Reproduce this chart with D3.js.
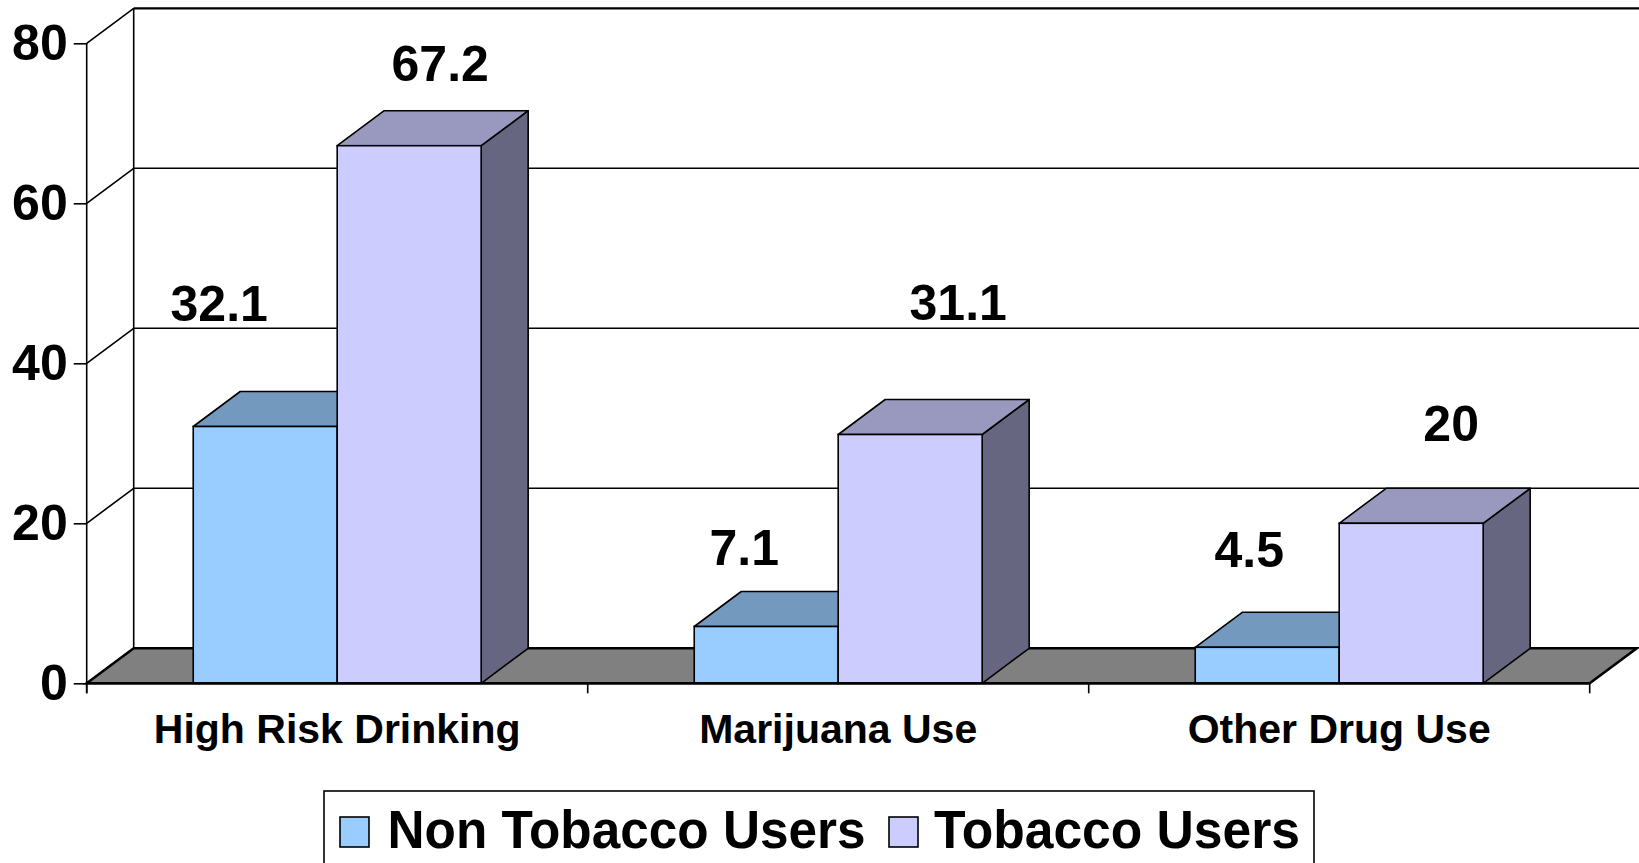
<!DOCTYPE html>
<html>
<head>
<meta charset="utf-8">
<script src="https://cdn.jsdelivr.net/npm/d3@7"></script>
<style>
  body { margin: 0; background: #fff; }
  svg { display: block; font-family: "Liberation Sans", Arial, sans-serif; font-weight: bold; }
</style>
</head>
<body>
<div id="chart"></div>
<script>
// data
var categories = ["High Risk Drinking", "Marijuana Use", "Other Drug Use"];
var seriesNames = ["Non Tobacco Users", "Tobacco Users"];
var nonTobacco = [32.1, 7.1, 4.5];
var tobacco = [67.2, 31.1, 20];
var yTicks = [0, 20, 40, 60, 80];

// layout only: label nudges (px) relative to the front face of each bar
var labelNudge = [
    [[-46, -106], [-22, -62], [-18, -80]],
    [[31, -65], [48, -115], [40, -82]]
];

var width = 1639, height = 863;
var depth = { dx: 47, dy: -35 };
var colors = {
    front: ["#99CCFF", "#CCCCFF"],
    top: ["#7399BF", "#9999BF"],
    side: ["#667F99", "#666680"]
};

var svg = d3.select("#chart")
    .append("svg")
    .attr("width", width)
    .attr("height", height);

// scales
var x = d3.scaleBand().domain(categories).range([86.7, 1589.7]);
var xs = d3.scaleBand().domain(seriesNames).range([0, x.bandwidth()])
    .paddingInner(0).paddingOuter(0.74);
var y = d3.scaleLinear().domain([0, 80]).range([683.3, 43.3]);

var x0 = x.range()[0], x1 = x.range()[1];

// walls / gridlines
var grid = svg.append("g");
yTicks.forEach(function (t) {
    if (t > 0) {
        grid.append("line")
            .attr("x1", x0 + depth.dx).attr("x2", width)
            .attr("y1", y(t) + depth.dy).attr("y2", y(t) + depth.dy)
            .attr("stroke", "#000").attr("stroke-width", t == 80 ? 2.2 : 1.6);
    }
    grid.append("line")
        .attr("x1", x0).attr("x2", x0 + depth.dx)
        .attr("y1", y(t)).attr("y2", y(t) + depth.dy)
        .attr("stroke", "#000").attr("stroke-width", 1.6);
});
// back wall edge
grid.append("line")
    .attr("x1", x0 + depth.dx).attr("x2", x0 + depth.dx)
    .attr("y1", y(80) + depth.dy).attr("y2", y(0) + depth.dy)
    .attr("stroke", "#000").attr("stroke-width", 1.6);

// floor
var floorPts = [[x0, y(0)], [x1, y(0)], [x1 + depth.dx, y(0) + depth.dy], [x0 + depth.dx, y(0) + depth.dy]];
svg.append("path")
    .attr("d", d3.line()(floorPts) + "Z")
    .attr("fill", "#808080")
    .attr("stroke", "#000")
    .attr("stroke-width", 2.5)
    .attr("stroke-linejoin", "miter");

// bars
var rows = [];
categories.forEach(function (c, i) {
    [nonTobacco, tobacco].forEach(function (vals, s) {
        rows.push({ cat: c, ci: i, s: s, value: vals[i] });
    });
});

var bars = svg.append("g").selectAll("g")
    .data(rows)
    .enter()
    .append("g");

function barGeom(d) {
    var bx = x(d.cat) + xs(seriesNames[d.s]);
    var bw = xs.bandwidth();
    return { l: bx, r: bx + bw, t: y(d.value), b: y(0) };
}

bars.append("path")
    .attr("d", function (d) {
        var g = barGeom(d);
        return d3.line()([[g.r, g.b], [g.r + depth.dx, g.b + depth.dy], [g.r + depth.dx, g.t + depth.dy], [g.r, g.t]]) + "Z";
    })
    .attr("fill", function (d) { return colors.side[d.s]; })
    .attr("stroke", "#000").attr("stroke-width", 1.6).attr("stroke-linejoin", "round");

bars.append("path")
    .attr("d", function (d) {
        var g = barGeom(d);
        return d3.line()([[g.l, g.t], [g.r, g.t], [g.r + depth.dx, g.t + depth.dy], [g.l + depth.dx, g.t + depth.dy]]) + "Z";
    })
    .attr("fill", function (d) { return colors.top[d.s]; })
    .attr("stroke", "#000").attr("stroke-width", 1.6).attr("stroke-linejoin", "round");

bars.append("rect")
    .attr("x", function (d) { return barGeom(d).l; })
    .attr("y", function (d) { return barGeom(d).t; })
    .attr("width", xs.bandwidth())
    .attr("height", function (d) { return y(0) - y(d.value); })
    .attr("fill", function (d) { return colors.front[d.s]; })
    .attr("stroke", "#000").attr("stroke-width", 1.6);

// front floor edge drawn again so it sits on top of bar bottoms
svg.append("line")
    .attr("x1", x0).attr("x2", x1)
    .attr("y1", y(0)).attr("y2", y(0))
    .attr("stroke", "#000").attr("stroke-width", 2.5);

// value labels
svg.append("g").selectAll("text")
    .data(rows)
    .enter()
    .append("text")
    .attr("text-anchor", "middle")
    .style("font-size", "50px")
    .attr("x", function (d) {
        var g = barGeom(d);
        return (g.l + g.r) / 2 + labelNudge[d.s][d.ci][0];
    })
    .attr("y", function (d) { return barGeom(d).t + labelNudge[d.s][d.ci][1]; })
    .text(function (d) { return d.value; });

// y axis
var yAxis = d3.axisLeft(y).tickValues(yTicks).tickSize(13).tickPadding(6);
var gy = svg.append("g")
    .attr("transform", "translate(" + x0 + ",0)")
    .call(yAxis);
gy.select(".domain").remove();
gy.selectAll(".tick line").attr("stroke", "#000").attr("stroke-width", 1.6);
gy.selectAll(".tick text")
    .attr("fill", "#000")
    .style("font-size", "50px")
    .style("font-family", "Liberation Sans, Arial, sans-serif")
    .style("font-weight", "bold");
svg.append("line")
    .attr("x1", x0).attr("x2", x0)
    .attr("y1", y(80)).attr("y2", y(0) + 10)
    .attr("stroke", "#000").attr("stroke-width", 1.6);

// x axis: ticks at category boundaries, labels centred
var bounds = categories.map(function (c) { return x(c); }).concat([x1]);
svg.append("g").selectAll("line")
    .data(bounds)
    .enter()
    .append("line")
    .attr("x1", function (d) { return d; }).attr("x2", function (d) { return d; })
    .attr("y1", y(0)).attr("y2", y(0) + 10)
    .attr("stroke", "#000").attr("stroke-width", 1.6);

var xAxis = d3.axisBottom(x).tickSize(0).tickPadding(0);
var gx = svg.append("g")
    .attr("transform", "translate(0," + y(0) + ")")
    .call(xAxis);
gx.select(".domain").remove();
gx.selectAll(".tick text")
    .attr("dy", null)
    .attr("y", 59.4)
    .attr("fill", "#000")
    .style("font-size", "41px")
    .style("font-family", "Liberation Sans, Arial, sans-serif")
    .style("font-weight", "bold");

// legend
var legend = svg.append("g");
legend.append("rect")
    .attr("x", 324).attr("y", 791)
    .attr("width", 990).attr("height", 120)
    .attr("fill", "#fff")
    .attr("stroke", "#000").attr("stroke-width", 1.6);

var legendItems = [
    { name: seriesNames[0], sq: 340, tx: 387.5, tl: 478 },
    { name: seriesNames[1], sq: 889, tx: 934, tl: 366 }
];
legendItems.forEach(function (it, i) {
    legend.append("rect")
        .attr("x", it.sq).attr("y", 817)
        .attr("width", 29).attr("height", 30)
        .attr("fill", colors.front[i])
        .attr("stroke", "#000").attr("stroke-width", 1.6);
    legend.append("text")
        .attr("x", it.tx).attr("y", 848)
        .style("font-size", "53px")
        .attr("textLength", it.tl)
        .attr("lengthAdjust", "spacingAndGlyphs")
        .text(it.name);
});
</script>
</body>
</html>
